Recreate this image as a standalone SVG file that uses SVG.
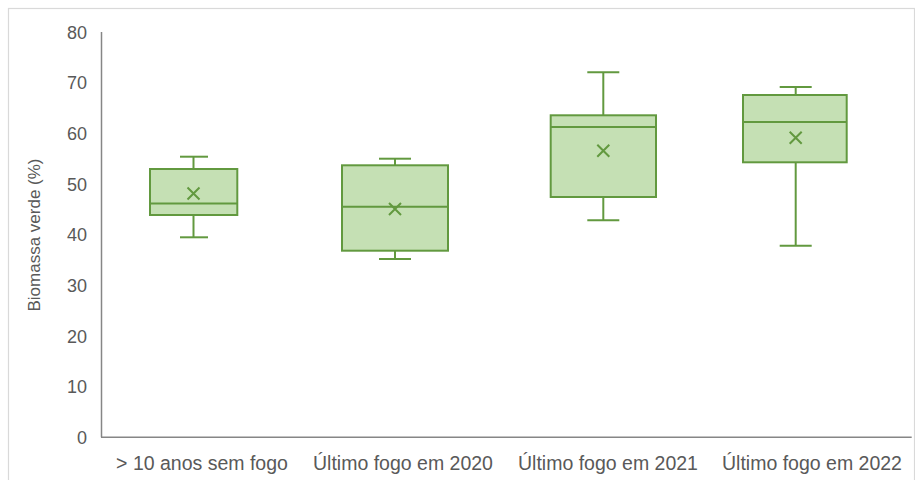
<svg xmlns="http://www.w3.org/2000/svg" width="915" height="480" viewBox="0 0 915 480">
<style>
.bg{fill:#ffffff}
.frame{fill:none;stroke:#d9d9d9;stroke-width:1.2}
.axis{fill:none;stroke:#868686;stroke-width:1.5}
.tick{font-family:"Liberation Sans",Arial,sans-serif;font-size:18px;fill:#595959;text-anchor:end}
.cat{font-family:"Liberation Sans",Arial,sans-serif;font-size:19.5px;fill:#595959;text-anchor:middle}
.ttl{font-family:"Liberation Sans",Arial,sans-serif;font-size:17px;fill:#595959;text-anchor:middle}
.box{fill:#c5e0b4;stroke:#62993f;stroke-width:2}
.ln{fill:none;stroke:#62993f;stroke-width:2}
.mean{fill:none;stroke:#62993f;stroke-width:2}
</style>
<rect class="bg" x="0" y="0" width="915" height="480"/>
<rect class="frame" x="8.5" y="8.5" width="906" height="480"/>
<g id="axes">
<line class="axis" x1="101.5" y1="32" x2="101.5" y2="437.3"/>
<line class="axis" x1="101" y1="437.3" x2="911.7" y2="437.3"/>
</g>
<g id="y-ticks">
<text class="tick" x="87" y="443.8">0</text>
<text class="tick" x="87" y="393.2">10</text>
<text class="tick" x="87" y="342.6">20</text>
<text class="tick" x="87" y="291.9">30</text>
<text class="tick" x="87" y="241.3">40</text>
<text class="tick" x="87" y="190.7">50</text>
<text class="tick" x="87" y="140.1">60</text>
<text class="tick" x="87" y="89.4">70</text>
<text class="tick" x="87" y="38.8">80</text>
</g>
<g id="y-title">
<text class="ttl" transform="translate(40,235) rotate(-90)">Biomassa verde (%)</text>
</g>
<g id="x-labels">
<text class="cat" x="202" y="470">&gt; 10 anos sem fogo</text>
<text class="cat" x="403" y="470">Último fogo em 2020</text>
<text class="cat" x="608" y="470">Último fogo em 2021</text>
<text class="cat" x="812" y="470">Último fogo em 2022</text>
</g>
<g id="box1">
<line class="ln" x1="193.5" y1="156.7" x2="193.5" y2="169"/>
<line class="ln" x1="193.5" y1="215" x2="193.5" y2="237.3"/>
<line class="ln" x1="180" y1="156.7" x2="208" y2="156.7"/>
<line class="ln" x1="180" y1="237.3" x2="208" y2="237.3"/>
<rect class="box" x="150" y="169" width="87.3" height="46"/>
<line class="ln" x1="150" y1="203.5" x2="237.3" y2="203.5"/>
<path class="mean" d="M187.5,187.5 L199.5,199.5 M199.5,187.5 L187.5,199.5"/>
</g>
<g id="box2">
<line class="ln" x1="395" y1="158.7" x2="395" y2="165.3"/>
<line class="ln" x1="395" y1="250.7" x2="395" y2="259"/>
<line class="ln" x1="379" y1="158.7" x2="411" y2="158.7"/>
<line class="ln" x1="379" y1="259" x2="411" y2="259"/>
<rect class="box" x="342" y="165.3" width="106" height="85.4"/>
<line class="ln" x1="342" y1="206.7" x2="448" y2="206.7"/>
<path class="mean" d="M389,203 L401,215 M401,203 L389,215"/>
</g>
<g id="box3">
<line class="ln" x1="603.3" y1="72.3" x2="603.3" y2="115.3"/>
<line class="ln" x1="603.3" y1="197" x2="603.3" y2="220.3"/>
<line class="ln" x1="587.3" y1="72.3" x2="619.3" y2="72.3"/>
<line class="ln" x1="587.3" y1="220.3" x2="619.3" y2="220.3"/>
<rect class="box" x="550.7" y="115.3" width="105.3" height="81.7"/>
<line class="ln" x1="550.7" y1="127" x2="656" y2="127"/>
<path class="mean" d="M597.3,144.7 L609.3,156.7 M609.3,144.7 L597.3,156.7"/>
</g>
<g id="box4">
<line class="ln" x1="795.7" y1="87" x2="795.7" y2="95"/>
<line class="ln" x1="795.7" y1="162.3" x2="795.7" y2="245.7"/>
<line class="ln" x1="779.7" y1="87" x2="811.7" y2="87"/>
<line class="ln" x1="779.7" y1="245.7" x2="811.7" y2="245.7"/>
<rect class="box" x="743" y="95" width="103.7" height="67.3"/>
<line class="ln" x1="743" y1="122" x2="846.7" y2="122"/>
<path class="mean" d="M789.7,131.7 L801.7,143.7 M801.7,131.7 L789.7,143.7"/>
</g>
</svg>
